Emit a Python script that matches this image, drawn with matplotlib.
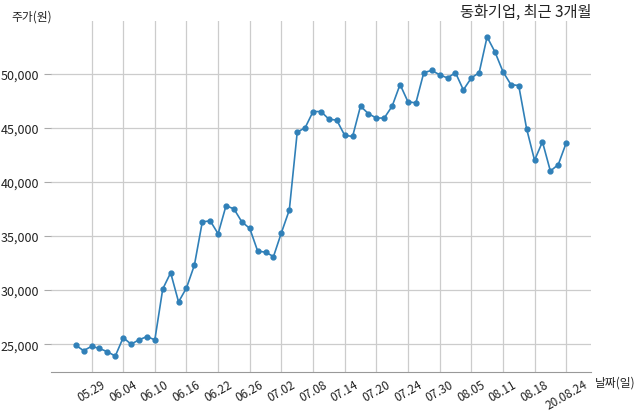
import matplotlib
matplotlib.use("Agg")
import matplotlib.pyplot as plt
from matplotlib.ticker import FuncFormatter

plt.rcParams['font.family'] = ['Noto Sans CJK KR', 'DejaVu Sans']

dates = [
    "05.27", "05.28", "05.29",
    "06.01", "06.02", "06.03", "06.04", "06.05",
    "06.08", "06.09", "06.10", "06.11", "06.12",
    "06.15", "06.16", "06.17", "06.18", "06.19",
    "06.22", "06.23", "06.24", "06.25", "06.26",
    "06.29", "06.30", "07.01", "07.02", "07.03",
    "07.06", "07.07", "07.08", "07.09", "07.10",
    "07.13", "07.14", "07.15", "07.16", "07.17",
    "07.20", "07.21", "07.22", "07.23", "07.24",
    "07.27", "07.28", "07.29", "07.30", "07.31",
    "08.03", "08.04", "08.05", "08.06", "08.07",
    "08.10", "08.11", "08.12", "08.13", "08.14",
    "08.18", "08.19", "08.20", "08.21", "08.24",
]

prices = [
    24900, 24400, 24800, 24600, 24300, 23900, 25600, 25000, 25400, 25700,
    25400, 30100, 31600, 28900, 30200, 32300, 36300, 36400, 35200, 37800,
    37500, 36300, 35700, 33600, 33500, 33100, 35300, 37400, 44600, 45000,
    46500, 46500, 45800, 45700, 44300, 44200, 47000, 46300, 45900, 45900,
    47000, 49000, 47400, 47300, 50100, 50300, 49900, 49600, 50100, 48500,
    49600, 50100, 53400, 52000, 50200, 49000, 48900, 44900, 42000, 43700,
    41000, 41600, 43600,
]

tick_labels = ["05.29", "06.04", "06.10", "06.16", "06.22", "06.26", "07.02",
               "07.08", "07.14", "07.20", "07.24", "07.30", "08.05", "08.11",
               "08.18", "20.08.24"]

title = "동화기업, 최근 3개월"
ylabel = "주가(원)"
xlabel = "날짜(일)"

fig = plt.figure(figsize=(6.4, 4.14), dpi=100)
ax = fig.add_axes([0.08, 0.099, 0.843, 0.848])

x = list(range(len(prices)))
ax.plot(x, prices, color='#3080b8', linewidth=1.2, marker='o', markersize=3.5)

tick_pos = [dates.index(t) if t in dates else len(dates) - 1 for t in tick_labels]
ax.set_xticks(tick_pos)
ax.set_xticklabels(tick_labels, rotation=30, fontsize=8.5, color='#222222')
ax.yaxis.set_major_formatter(FuncFormatter(lambda v, p: f"{int(v):,}"))
ax.tick_params(axis='y', labelsize=9, colors='#222222', length=5, color='#aaaaaa')
ax.tick_params(axis='x', length=0, pad=4)
for lab in ax.get_yticklabels():
    lab.set_color('#222222')

ax.grid(True, color='#cccccc', linewidth=0.9)
ax.set_axisbelow(True)
for s in ['top', 'right', 'left']:
    ax.spines[s].set_visible(False)
ax.spines['bottom'].set_color('#999999')

fig.text(0.925, 0.97, title, ha='right', va='center', fontsize=11, color='#222222')
fig.text(0.018, 0.958, ylabel, ha='left', va='center', fontsize=8.5, color='#222222')
fig.text(0.93, 0.075, xlabel, ha='left', va='center', fontsize=8.5, color='#222222')

fig.savefig("out.png", dpi=100)
